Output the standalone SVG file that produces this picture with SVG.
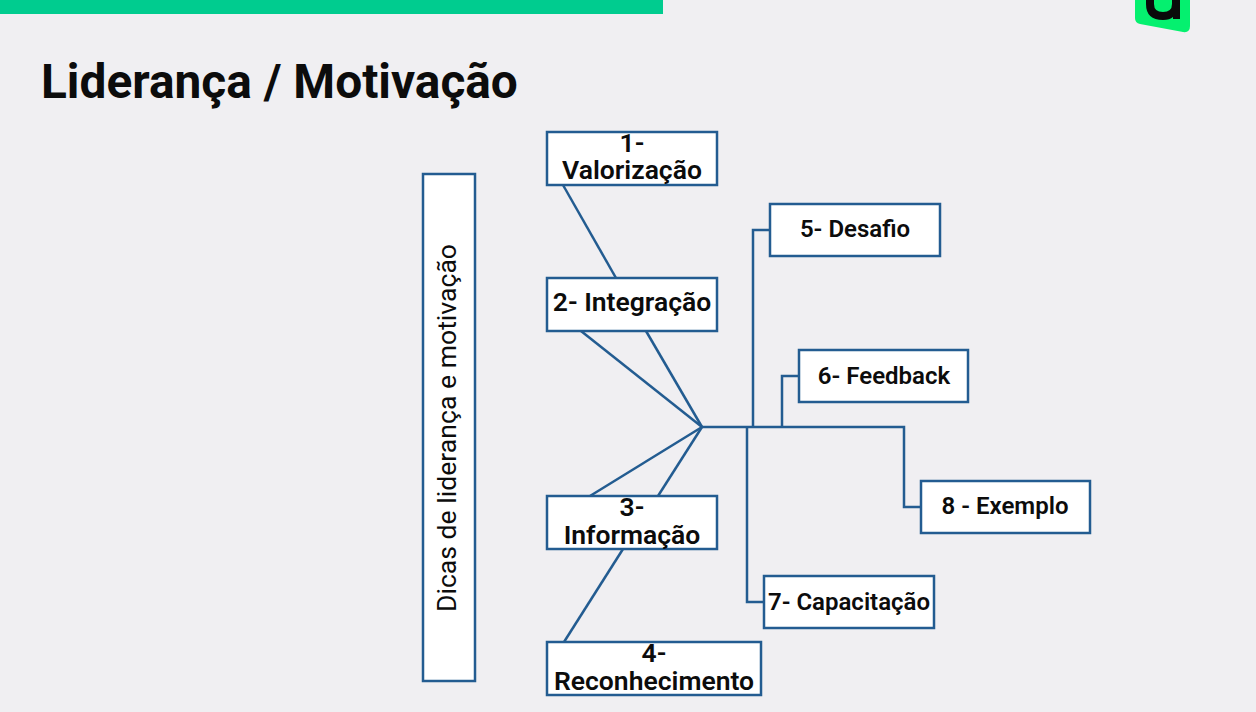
<svg xmlns="http://www.w3.org/2000/svg" width="1256" height="712" viewBox="0 0 1256 712">
<style>
.box{fill:#fff;stroke:#235c91;stroke-width:2.500}
.ln{fill:none;stroke:#235c91;stroke-width:2.500}
text{font-family:Roboto,"Liberation Sans",sans-serif;fill:#0c0c0c}
.l{font-size:26.500px;font-weight:600;text-anchor:middle}
.m{font-size:24px;font-weight:600;text-anchor:middle}
</style>
<rect width="1256" height="712" fill="#f0eff2"/>
<rect x="0" y="0" width="663" height="14" fill="#00cc8f"/>
<path d="M1135 0H1190V26Q1190 33 1183 32L1140 24Q1135 23 1135 18Z" fill="#05f06f"/>
<path d="M1146 0V4Q1146 20 1163 20Q1170 20 1173 17V19H1180V0H1172V4Q1172 12 1163 12Q1154 12 1154 4V0Z" fill="#0a0a0a"/>
<text x="41" y="98" font-size="47.800" font-weight="700">Liderança / Motivação</text>
<g id="connectors">
<path class="ln" d="M563 185L616 278"/>
<path class="ln" d="M581 331L702 427"/>
<path class="ln" d="M646 331L702 427"/>
<path class="ln" d="M590 496L702 427"/>
<path class="ln" d="M658 496L702 427"/>
<path class="ln" d="M623 549L564 642"/>
<path class="ln" d="M702 427H904V507H921"/>
<path class="ln" d="M753 427V230H770"/>
<path class="ln" d="M782 427V376H799"/>
<path class="ln" d="M747 427V602H764"/>
</g>
<g id="root"><rect class="box" x="423" y="174" width="52" height="507"/><text transform="translate(456 428) rotate(-90)" font-size="26.600" text-anchor="middle">Dicas de liderança e motivação</text></g>
<g id="n1"><rect class="box" x="547" y="132" width="170" height="53"/><text class="l" x="632" y="152">1-</text><text class="l" x="632" y="179">Valorização</text></g>
<g id="n2"><rect class="box" x="547" y="278" width="170" height="53"/><text class="l" x="632" y="311">2- Integração</text></g>
<g id="n3"><rect class="box" x="547" y="496" width="170" height="53"/><text class="l" x="632" y="516">3-</text><text class="l" x="632" y="544">Informação</text></g>
<g id="n4"><rect class="box" x="547" y="642" width="214" height="53"/><text class="l" x="654" y="662">4-</text><text class="l" x="654" y="690">Reconhecimento</text></g>
<g id="n5"><rect class="box" x="770" y="204" width="170" height="52"/><text class="m" x="855" y="237">5- Desafio</text></g>
<g id="n6"><rect class="box" x="799" y="350" width="169" height="52"/><text class="m" x="884" y="384">6- Feedback</text></g>
<g id="n7"><rect class="box" x="764" y="576" width="170" height="52"/><text class="m" x="849" y="610">7- Capacitação</text></g>
<g id="n8"><rect class="box" x="921" y="481" width="169" height="52"/><text class="m" x="1005" y="514">8 - Exemplo</text></g>
</svg>
